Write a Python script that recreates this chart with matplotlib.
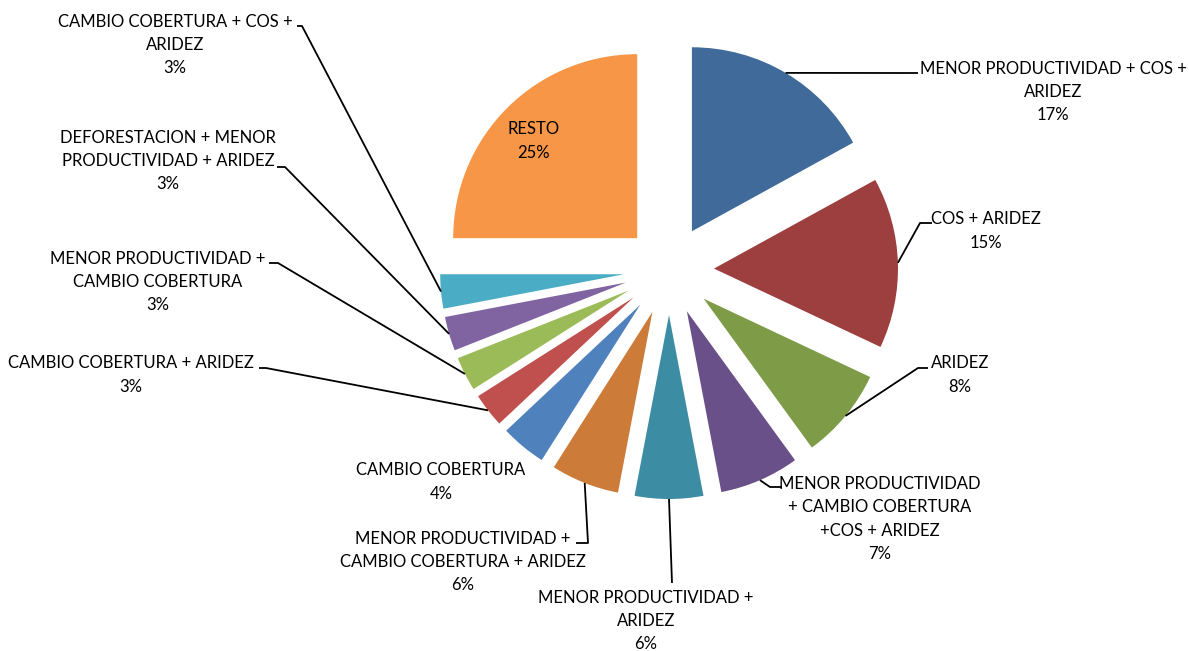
import matplotlib
matplotlib.use("Agg")
import matplotlib.pyplot as plt
import numpy as np

# Share of each cause combination (%), clockwise from the top
categories = [
    "MENOR PRODUCTIVIDAD + COS +\nARIDEZ",
    "COS + ARIDEZ",
    "ARIDEZ",
    "MENOR PRODUCTIVIDAD\n+ CAMBIO COBERTURA\n+COS + ARIDEZ",
    "MENOR PRODUCTIVIDAD +\nARIDEZ",
    "MENOR PRODUCTIVIDAD +\nCAMBIO COBERTURA + ARIDEZ",
    "CAMBIO COBERTURA",
    "CAMBIO COBERTURA + ARIDEZ",
    "MENOR PRODUCTIVIDAD +\nCAMBIO COBERTURA",
    "DEFORESTACION + MENOR\nPRODUCTIVIDAD + ARIDEZ",
    "CAMBIO COBERTURA + COS +\nARIDEZ",
    "RESTO",
]
values = [17, 15, 8, 7, 6, 6, 4, 3, 3, 3, 3, 25]

colors = ["#3F6A9A", "#9C3F3E", "#7E9C48", "#6A5088", "#3C8CA3", "#CC7B38",
          "#4F81BD", "#C0504D", "#9BBB59", "#8064A2", "#4BACC6", "#F79646"]

# label centres in figure pixels (y down)
label_pos = [(1053, 92), (986, 231), (960, 375), (880, 519), (646, 621),
             (463, 562), (441, 482), (131, 375), (158, 282), (168, 161),
             (175, 45), (534, 141)]
# leader line: elbow point and end next to the text (None = no line)
leaders = [((906, 73), (918, 73)), ((920, 223), (932, 223)),
           ((918, 368), (928, 368)), ((770, 487), (782, 487)),
           ((672, 583), (672, 583)), ((588, 543), (576, 543)),
           None, ((266, 368), (259, 368)), ((278, 263), (269, 263)),
           ((285, 167), (277, 167)), ((302, 26), (297, 26)), None]

W, H = 1189, 651
fig = plt.figure(figsize=(W / 100, H / 100), dpi=100)
ax = fig.add_axes([0, 0, 1, 1])

wedges, _ = ax.pie(values, colors=colors, startangle=270, counterclock=True,
                   center=(669, 270), radius=184, explode=[45] * len(values),
                   wedgeprops=dict(linewidth=0))
ax.set_xlim(0, W)
ax.set_ylim(H, 0)
ax.set_aspect("equal")
ax.axis("off")

for w, name, v, pos, ld in zip(wedges, categories, values, label_pos, leaders):
    ax.text(pos[0], pos[1], f"{name}\n{v}%", ha="center", va="center",
            fontsize=12, family="Lato", color="black", linespacing=1.55)
    if ld is None:
        continue
    tm = np.deg2rad((w.theta1 + w.theta2) / 2)
    px = w.center[0] + w.r * np.cos(tm)
    py = w.center[1] + w.r * np.sin(tm)
    ax.plot([px, ld[0][0], ld[1][0]], [py, ld[0][1], ld[1][1]],
            color="black", lw=1.3, solid_capstyle="butt")

fig.savefig("out.png", dpi=100)
